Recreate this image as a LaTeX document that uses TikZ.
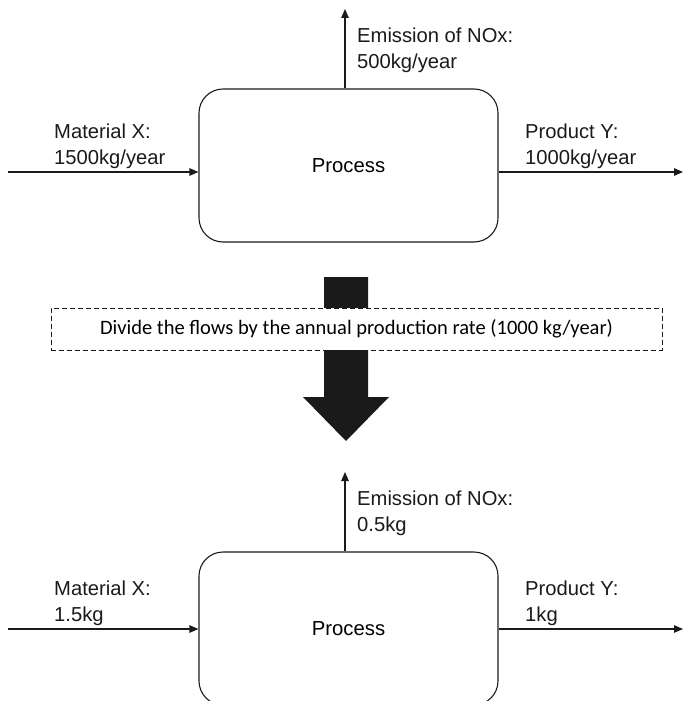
\documentclass[tikz,border=0pt]{standalone}
\usepackage{fontspec}
\setmainfont{Liberation Sans}
\newfontfamily\notefont{Carlito}
\usetikzlibrary{arrows.meta}
\definecolor{ink}{HTML}{1A1A1A}
\tikzset{
  procbox/.style={draw=ink, line width=1.1pt, rounded corners=24pt, minimum width=299pt, minimum height=153pt, inner sep=0pt, font=\fontsize{20.3}{25}\selectfont},
  flow/.style={draw=ink, line width=1.1pt, -{Triangle[length=9pt,width=7.5pt]}},
  lbl/.style={anchor=north west, inner sep=0pt, align=left, text=ink, font=\fontsize{20.2}{25.5}\selectfont},
  notebox/.style={draw=ink, fill=white, dash pattern=on 5pt off 3pt, line width=0.9pt, minimum width=611pt, minimum height=42pt, inner sep=0pt, font=\notefont\fontsize{20.5}{24}\selectfont},
}
\begin{document}
\begin{tikzpicture}[x=1pt,y=-1pt]
\useasboundingbox (0,0) rectangle (683,701);
\clip (0,0) rectangle (683,701);
% top process
\node[procbox] (p1) at (348.5,165.5) {Process};
\coordinate (in1) at (8,172);
\coordinate (out1) at (683,172);
\coordinate (em1) at (345,9);
\draw[flow] (in1) -- (in1 -| p1.west);
\draw[flow] (out1 -| p1.east) -- (out1);
\draw[flow] (em1 |- p1.north) -- (em1);
\node[lbl] (lm1) at (54,124) {Material X:\\1500kg/year};
\node[lbl] (le1) at (357,28) {Emission of NOx:\\500kg/year};
\node[lbl] (lp1) at (525,124) {Product Y:\\1000kg/year};
% big arrow
\fill[ink] (324,277) -- (368,277) -- (368,397) -- (389,397) -- (346,441) -- (303,397) -- (324,397) -- cycle;
\node[notebox] (note) at (356.5,329) {Divide the flows by the annual production rate (1000 kg/year)};
% bottom process
\node[procbox] (p2) at (348.5,628.5) {Process};
\coordinate (in2) at (8,629);
\coordinate (out2) at (683,629);
\coordinate (em2) at (345,472);
\draw[flow] (in2) -- (in2 -| p2.west);
\draw[flow] (out2 -| p2.east) -- (out2);
\draw[flow] (em2 |- p2.north) -- (em2);
\node[lbl] (lm2) at (54,581) {Material X:\\1.5kg};
\node[lbl] (le2) at (357,491) {Emission of NOx:\\0.5kg};
\node[lbl] (lp2) at (525,581) {Product Y:\\1kg};
\end{tikzpicture}
\end{document}
